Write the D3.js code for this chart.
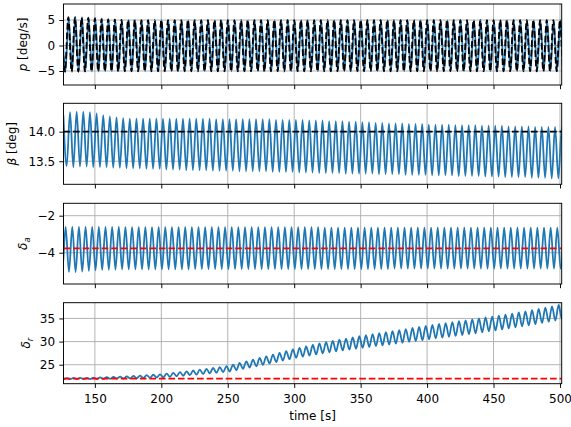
<!DOCTYPE html>
<html>
<head>
<meta charset="utf-8">
<script src="https://cdn.jsdelivr.net/npm/d3@7"></script>
<style>
  body { margin: 0; background: #fff; }
  svg { font-family: "DejaVu Sans", sans-serif; }
</style>
</head>
<body>
<svg id="chart" width="571" height="427"></svg>
<script>
// shared time axis
const timeRange = [126.4, 501.3];
const timeTicks = [150, 200, 250, 300, 350, 400, 450, 500];
const halfPeriod = 2.5; // s between a maximum and the following minimum

// roll rate p [deg/s], measured (blue) and reference (black dashed)
const pFirstPeak = 125.3;
const pPeaks = [
  5.5, 5.6, 5.6, 5.55, 5.5, 5.4, 5.3, 5.2, 5.15, 5.1,
  5.05, 5.02, 5.0, 5.0, 5.0, 5.0, 5.0, 5.0, 5.0, 5.0,
  5.0, 5.0, 5.0, 5.0, 5.0, 5.0, 5.0, 5.0, 5.0, 5.0,
  5.0, 5.0, 5.0, 5.0, 5.0, 5.0, 5.0, 5.0, 5.0, 5.0,
  5.0, 5.0, 5.0, 5.0, 5.0, 5.0, 5.0, 5.0, 5.0, 5.0,
  5.0, 5.0, 5.0, 5.0, 5.0, 5.0, 5.0, 5.0, 5.0, 5.0,
  5.0, 5.0, 5.0, 5.0, 5.0, 5.0, 5.0, 5.0, 5.0, 5.0,
  5.0, 5.0, 5.0, 5.0, 5.0, 5.0, 5.0
];
const pTroughs = [
  -5.2, -5.2, -5.15, -5.12, -5.1, -5.1, -5.08, -5.06, -5.05, -5.05,
  -5.05, -5.05, -5.05, -5.05, -5.05, -5.05, -5.05, -5.05, -5.05, -5.05,
  -5.05, -5.05, -5.05, -5.05, -5.05, -5.05, -5.05, -5.05, -5.05, -5.05,
  -5.05, -5.05, -5.05, -5.05, -5.05, -5.05, -5.05, -5.05, -5.05, -5.05,
  -5.05, -5.05, -5.05, -5.05, -5.05, -5.05, -5.05, -5.05, -5.05, -5.05,
  -5.05, -5.05, -5.05, -5.05, -5.05, -5.05, -5.05, -5.05, -5.05, -5.05,
  -5.05, -5.05, -5.05, -5.05, -5.05, -5.05, -5.05, -5.05, -5.05, -5.05,
  -5.05, -5.05, -5.05, -5.05, -5.05, -5.05
];
const pRefFirstPeak = 125.0;
const pRefPeaks = [
  5.4, 5.5, 5.5, 5.45, 5.4, 5.3, 5.2, 5.15, 5.1, 5.05,
  5.02, 5.0, 5.0, 5.0, 5.0, 5.0, 5.0, 5.0, 5.0, 5.0,
  5.0, 5.0, 5.0, 5.0, 5.0, 5.0, 5.0, 5.0, 5.0, 5.0,
  5.0, 5.0, 5.0, 5.0, 5.0, 5.0, 5.0, 5.0, 5.0, 5.0,
  5.0, 5.0, 5.0, 5.0, 5.0, 5.0, 5.0, 5.0, 5.0, 5.0,
  5.0, 5.0, 5.0, 5.0, 5.0, 5.0, 5.0, 5.0, 5.0, 5.0,
  5.0, 5.0, 5.0, 5.0, 5.0, 5.0, 5.0, 5.0, 5.0, 5.0,
  5.0, 5.0, 5.0, 5.0, 5.0, 5.0, 5.0
];
const pRefTroughs = [
  -5.1, -5.1, -5.1, -5.08, -5.06, -5.05, -5.05, -5.05, -5.05, -5.05,
  -5.05, -5.05, -5.05, -5.05, -5.05, -5.05, -5.05, -5.05, -5.05, -5.05,
  -5.05, -5.05, -5.05, -5.05, -5.05, -5.05, -5.05, -5.05, -5.05, -5.05,
  -5.05, -5.05, -5.05, -5.05, -5.05, -5.05, -5.05, -5.05, -5.05, -5.05,
  -5.05, -5.05, -5.05, -5.05, -5.05, -5.05, -5.05, -5.05, -5.05, -5.05,
  -5.05, -5.05, -5.05, -5.05, -5.05, -5.05, -5.05, -5.05, -5.05, -5.05,
  -5.05, -5.05, -5.05, -5.05, -5.05, -5.05, -5.05, -5.05, -5.05, -5.05,
  -5.05, -5.05, -5.05, -5.05, -5.05, -5.05
];
const pRange = [-7.75, 8.15];
const pTicks = [-5, 0, 5];

// sideslip beta [deg] and its reference
const betaFirstPeak = 126.3;
const betaPeaks = [
  14.28, 14.33, 14.34, 14.34, 14.33, 14.31, 14.28, 14.26, 14.24, 14.23,
  14.22, 14.22, 14.22, 14.22, 14.22, 14.22, 14.22, 14.22, 14.22, 14.22,
  14.22, 14.22, 14.22, 14.21, 14.21, 14.21, 14.21, 14.21, 14.21, 14.21,
  14.21, 14.21, 14.20, 14.20, 14.20, 14.20, 14.20, 14.19, 14.19, 14.19,
  14.18, 14.18, 14.18, 14.17, 14.17, 14.16, 14.16, 14.15, 14.15, 14.14,
  14.14, 14.14, 14.13, 14.13, 14.13, 14.12, 14.12, 14.12, 14.12, 14.11,
  14.11, 14.11, 14.11, 14.10, 14.10, 14.10, 14.10, 14.09, 14.09, 14.09,
  14.09, 14.08, 14.08, 14.08, 14.08, 14.07, 14.07
];
const betaTroughs = [
  13.42, 13.40, 13.41, 13.41, 13.40, 13.40, 13.40, 13.39, 13.39, 13.38,
  13.38, 13.38, 13.37, 13.37, 13.37, 13.36, 13.36, 13.36, 13.35, 13.35,
  13.35, 13.35, 13.34, 13.34, 13.34, 13.34, 13.33, 13.33, 13.33, 13.33,
  13.33, 13.32, 13.32, 13.32, 13.32, 13.31, 13.31, 13.31, 13.30, 13.30,
  13.30, 13.30, 13.29, 13.29, 13.29, 13.29, 13.29, 13.28, 13.28, 13.28,
  13.28, 13.27, 13.27, 13.27, 13.27, 13.26, 13.26, 13.26, 13.26, 13.25,
  13.25, 13.25, 13.25, 13.24, 13.24, 13.24, 13.23, 13.23, 13.23, 13.23,
  13.22, 13.22, 13.22, 13.21, 13.21, 13.21
];
const betaRef = 14.0;
const betaRange = [13.11, 14.48];
const betaTicks = [13.5, 14.0];

// aileron deflection delta_a and its trim value
const aileronFirstPeak = 123.0;
const aileronPeaks = [
  -2.60, -2.60, -2.60, -2.60, -2.60, -2.60, -2.60, -2.60, -2.60, -2.60,
  -2.62, -2.62, -2.62, -2.62, -2.62, -2.62, -2.62, -2.62, -2.62, -2.62,
  -2.62, -2.62, -2.62, -2.62, -2.62, -2.62, -2.62, -2.62, -2.62, -2.62,
  -2.62, -2.62, -2.62, -2.62, -2.62, -2.62, -2.62, -2.62, -2.62, -2.62,
  -2.64, -2.64, -2.64, -2.64, -2.64, -2.64, -2.64, -2.64, -2.64, -2.64,
  -2.64, -2.64, -2.64, -2.64, -2.64, -2.64, -2.64, -2.64, -2.64, -2.64,
  -2.64, -2.64, -2.64, -2.64, -2.64, -2.64, -2.64, -2.64, -2.64, -2.64,
  -2.64, -2.64, -2.64, -2.64, -2.64, -2.64, -2.64
];
const aileronTroughs = [
  -4.98, -5.04, -5.05, -5.02, -4.98, -4.95, -4.93, -4.92, -4.91, -4.90,
  -4.90, -4.90, -4.90, -4.90, -4.90, -4.90, -4.90, -4.90, -4.90, -4.90,
  -4.88, -4.88, -4.88, -4.88, -4.88, -4.88, -4.88, -4.88, -4.88, -4.88,
  -4.88, -4.88, -4.88, -4.88, -4.88, -4.88, -4.88, -4.88, -4.88, -4.88,
  -4.88, -4.88, -4.88, -4.88, -4.88, -4.88, -4.88, -4.88, -4.88, -4.88,
  -4.86, -4.86, -4.86, -4.86, -4.86, -4.86, -4.86, -4.86, -4.86, -4.86,
  -4.86, -4.86, -4.86, -4.86, -4.86, -4.86, -4.86, -4.86, -4.86, -4.86,
  -4.86, -4.86, -4.86, -4.86, -4.86, -4.86
];
const aileronTrim = -3.77;
const aileronRange = [-5.69, -1.33];
const aileronTicks = [-4, -2];

// rudder deflection delta_r and its trim value
const rudderFirstPeak = 124.0;
const rudderPeaks = [
  22.10, 22.12, 22.14, 22.16, 22.18, 22.20, 22.25, 22.31, 22.36, 22.42,
  22.47, 22.56, 22.65, 22.74, 22.83, 22.92, 23.09, 23.25, 23.42, 23.58,
  23.75, 23.94, 24.12, 24.31, 24.49, 24.68, 25.03, 25.39, 25.74, 26.10,
  26.45, 26.82, 27.19, 27.56, 27.93, 28.30, 28.62, 28.94, 29.26, 29.58,
  29.90, 30.15, 30.40, 30.65, 30.90, 31.15, 31.37, 31.59, 31.81, 32.03,
  32.25, 32.48, 32.71, 32.94, 33.17, 33.40, 33.60, 33.80, 34.00, 34.20,
  34.40, 34.60, 34.80, 35.00, 35.20, 35.40, 35.62, 35.84, 36.06, 36.28,
  36.50, 36.78, 37.06, 37.34, 37.62, 37.90, 38.15
];
const rudderTroughs = [
  21.90, 21.90, 21.90, 21.90, 21.90, 21.90, 21.93, 21.95, 21.98, 22.00,
  22.03, 22.08, 22.13, 22.18, 22.23, 22.28, 22.39, 22.51, 22.62, 22.74,
  22.85, 22.98, 23.12, 23.25, 23.39, 23.52, 23.81, 24.09, 24.38, 24.66,
  24.95, 25.26, 25.57, 25.88, 26.19, 26.50, 26.74, 26.98, 27.22, 27.46,
  27.70, 27.89, 28.08, 28.27, 28.46, 28.65, 28.83, 29.01, 29.19, 29.37,
  29.55, 29.74, 29.93, 30.12, 30.31, 30.50, 30.68, 30.86, 31.04, 31.22,
  31.40, 31.60, 31.80, 32.00, 32.20, 32.40, 32.62, 32.84, 33.06, 33.28,
  33.50, 33.76, 34.02, 34.28, 34.54, 34.80
];
const rudderTrim = 22.0;
const rudderRange = [20.9, 38.4];
const rudderTicks = [25, 30, 35];

// turn the extrema lists into (time, value) points
function swing(firstPeak, peaks, troughs) {
  var pts = [];
  peaks.forEach(function (v, i) {
    var t = firstPeak + 2 * halfPeriod * i;
    pts.push([t, v]);
    if (i < troughs.length) pts.push([t + halfPeriod, troughs[i]]);
  });
  return pts;
}
function flat(v) {
  return [[timeRange[0], v], [timeRange[1], v]];
}

var svg = d3.select("#chart");
var left = 63.5, right = 561.7;
var blue = "#1f77b4";
var fontSize = 12, tick = 4.2;

var x = d3.scaleLinear().domain(timeRange).range([left, right]);

var panels = [
  { top: 4, bottom: 85, range: pRange, ticks: pTicks, fmt: d3.format("d"), labelX: 26.8,
    label: [["p", true], [" [deg/s]", false]],
    lines: [
      { data: swing(pFirstPeak, pPeaks, pTroughs), color: blue },
      { data: swing(pRefFirstPeak, pRefPeaks, pRefTroughs), color: "#000", dash: true }
    ] },
  { top: 103.3, bottom: 184.3, range: betaRange, ticks: betaTicks, fmt: d3.format(".1f"), labelX: 15.5,
    label: [["β", true], [" [deg]", false]],
    lines: [
      { data: swing(betaFirstPeak, betaPeaks, betaTroughs), color: blue },
      { data: flat(betaRef), color: "#000", dash: true }
    ] },
  { top: 203.3, bottom: 284, range: aileronRange, ticks: aileronTicks, fmt: d3.format("d"), labelX: 27.3,
    label: [["δ", true], ["a", true, true]],
    lines: [
      { data: swing(aileronFirstPeak, aileronPeaks, aileronTroughs), color: blue },
      { data: flat(aileronTrim), color: "#ff0000", dash: true }
    ] },
  { top: 302.7, bottom: 383.7, range: rudderRange, ticks: rudderTicks, fmt: d3.format("d"), labelX: 30,
    label: [["δ", true], ["r", true, true]],
    lines: [
      { data: swing(rudderFirstPeak, rudderPeaks, rudderTroughs), color: blue },
      { data: flat(rudderTrim), color: "#ff0000", dash: true }
    ] }
];

panels.forEach(function (pn, i) {
  var y = d3.scaleLinear().domain(pn.range).range([pn.bottom, pn.top]);
  var g = svg.append("g");

  // grid
  g.selectAll(".vgrid").data(timeTicks).join("line")
    .attr("x1", d => x(d)).attr("x2", d => x(d))
    .attr("y1", pn.top).attr("y2", pn.bottom)
    .attr("stroke", "#b0b0b0").attr("stroke-width", 0.96);
  g.selectAll(".hgrid").data(pn.ticks).join("line")
    .attr("class", "hgrid")
    .attr("x1", left).attr("x2", right)
    .attr("y1", d => y(d)).attr("y2", d => y(d))
    .attr("stroke", "#b0b0b0").attr("stroke-width", 0.96);

  // curves, clipped to the axes box
  g.append("clipPath").attr("id", "clip" + i)
    .append("rect")
    .attr("x", left).attr("y", pn.top)
    .attr("width", right - left).attr("height", pn.bottom - pn.top);

  var line = d3.line()
    .x(d => x(d[0]))
    .y(d => y(d[1]))
    .curve(d3.curveMonotoneX);

  pn.lines.forEach(function (ln) {
    g.append("path")
      .attr("clip-path", "url(#clip" + i + ")")
      .attr("d", line(ln.data))
      .attr("fill", "none")
      .attr("stroke", ln.color)
      .attr("stroke-width", 1.8)
      .attr("stroke-dasharray", ln.dash ? "6.66,2.88" : null);
  });

  // axes
  var yAxis = d3.axisLeft(y).tickValues(pn.ticks).tickFormat(pn.fmt)
    .tickSizeInner(tick).tickSizeOuter(0).tickPadding(tick);
  var ya = g.append("g").attr("transform", "translate(" + left + ",0)").call(yAxis);
  var xAxis = d3.axisBottom(x).tickValues(timeTicks)
    .tickSizeInner(tick).tickSizeOuter(0).tickPadding(tick);
  if (i < panels.length - 1) xAxis.tickFormat("");
  var xa = g.append("g").attr("transform", "translate(0," + pn.bottom + ")").call(xAxis);
  xa.selectAll("text").attr("dy", 10.6);
  [ya, xa].forEach(function (a) {
    a.select(".domain").remove();
    a.selectAll("line").attr("stroke", "#000").attr("stroke-width", 0.96);
    a.selectAll("text").attr("font-size", fontSize).attr("fill", "#000")
      .attr("font-family", "DejaVu Sans");
  });

  // frame
  g.append("rect")
    .attr("x", left).attr("y", pn.top)
    .attr("width", right - left).attr("height", pn.bottom - pn.top)
    .attr("fill", "none").attr("stroke", "#000").attr("stroke-width", 0.96);

  // y label, baseline on the right after rotation
  var yc = (pn.top + pn.bottom) / 2;
  var lab = g.append("text")
    .attr("transform", "translate(" + pn.labelX + "," + yc + ") rotate(-90)")
    .attr("text-anchor", "middle")
    .attr("font-size", fontSize);
  pn.label.forEach(function (part) {
    var ts = lab.append("tspan").text(part[0]);
    if (part[1]) ts.attr("font-style", "italic");
    if (part[2]) ts.attr("font-size", fontSize * 0.7).attr("dy", 3);
  });
});

svg.append("text")
  .attr("x", (left + right) / 2)
  .attr("y", 420)
  .attr("text-anchor", "middle")
  .attr("font-size", fontSize)
  .text("time [s]");
</script>
</body>
</html>
